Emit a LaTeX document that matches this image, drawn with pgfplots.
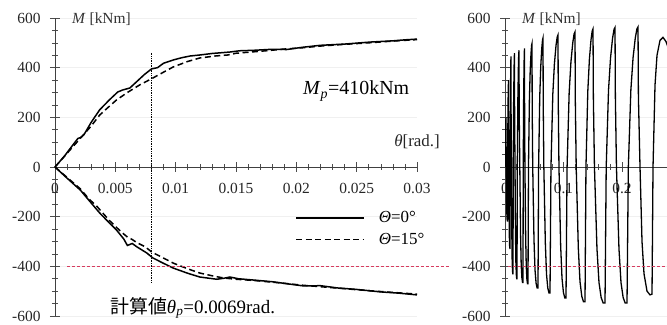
\documentclass[border=0pt]{standalone}
\usepackage{fontspec}
\setmainfont{Liberation Serif}
\newfontfamily\cjk{Noto Sans CJK JP}
\usepackage{pgfplots}
\pgfplotsset{compat=1.18}
\definecolor{refred}{RGB}{214,60,95}
\pgfplotsset{
  panel/.style={
    scale only axis, height=298bp,
    axis lines=middle, axis line style={-, line width=0.7bp, black!75},
    ymin=-600, ymax=600,
    ytick={-600,-400,-200,0,200,400,600},
    yticklabels={-600,-400,-200,0,200,400,600},
    scaled x ticks=false, scaled y ticks=false,
    minor y tick num=3,
    tick align=center,
    major tick length=10bp, minor tick length=6bp,
    every tick/.style={line width=0.6bp, black!70},
    hide obscured x ticks=false, hide obscured y ticks=false,
    ticklabel style={font=\fontsize{15.5}{17}\selectfont, black!85},
    xticklabel style={anchor=north, yshift=-8bp},
    yticklabel style={anchor=east, xshift=-6bp},
    ymajorgrids, major grid style={gray!12, line width=0.5bp},
  }
}
\begin{document}
\begin{tikzpicture}
\useasboundingbox (0bp,0bp) rectangle (667bp,325bp);
% ---------------- left panel ----------------
\begin{axis}[panel, at={(55bp,9bp)}, anchor=south west, width=362bp,
  xmin=0, xmax=0.03,
  xtick={0,0.005,0.01,0.015,0.02,0.025,0.03},
  xticklabels={0,0.005,0.01,0.015,0.02,0.025,0.03},
  minor x tick num=4, clip=false,
  legend style={at={(0.655,0.365)}, anchor=north west, draw=none, fill=none,
    font=\fontsize{17}{19}\selectfont, row sep=5bp, column sep=12bp},
  legend cell align=left,
  legend image code/.code={\draw[#1] (0bp,0bp) -- (68bp,0bp);},
]
\addplot[black, line width=1.5bp] coordinates {
(0,0) (0.0008,45) (0.0015,90) (0.0019,115) (0.0021,118) (0.0024,130) (0.0030,180)
(0.0037,230) (0.0045,270) (0.0052,302) (0.0056,310) (0.0062,318) (0.0068,345)
(0.0074,372) (0.0080,395) (0.0085,400) (0.0090,418) (0.0098,431) (0.0105,440)
(0.0112,447) (0.0120,451) (0.0130,457) (0.0145,463) (0.0153,468) (0.0165,470)
(0.0180,474) (0.0192,473) (0.0205,482) (0.0220,490) (0.0240,495) (0.0261,503)
(0.0280,508) (0.0290,512) (0.0300,515)};
\addlegendentry{{\itshape Θ}=0°}
\addplot[black, line width=1.5bp, dash pattern=on 6bp off 3.5bp] coordinates {
(0,0) (0.0010,55) (0.0022,121) (0.0030,165) (0.0037,209) (0.0044,240) (0.0051,270)
(0.0060,300) (0.0070,330) (0.0081,358) (0.0090,382) (0.0098,403) (0.0110,425)
(0.0120,439) (0.0133,447) (0.0143,451) (0.0150,458) (0.0160,462) (0.0175,468)
(0.0190,475) (0.0205,480) (0.0220,487) (0.0240,494) (0.0260,500) (0.0280,507)
(0.0300,513)};
\addlegendentry{{\itshape Θ}=15°}
\addplot[black, line width=1.5bp, forget plot] coordinates {
(0,0) (0.0010,-45) (0.0021,-93) (0.0030,-145) (0.0037,-185) (0.0045,-225)
(0.0051,-254) (0.0057,-290) (0.0060,-316) (0.0064,-308) (0.0068,-322) (0.0076,-346)
(0.0081,-366) (0.0090,-388) (0.0098,-407) (0.0110,-428) (0.0120,-443) (0.0134,-452)
(0.0140,-448) (0.0145,-443) (0.0152,-450) (0.0164,-455) (0.0180,-462) (0.0206,-479)
(0.0220,-478) (0.0234,-487) (0.0250,-493) (0.0270,-503) (0.0285,-508) (0.0300,-515)};
\addplot[black, line width=1.5bp, dash pattern=on 6bp off 3.5bp, forget plot] coordinates {
(0,0) (0.0010,-42) (0.0021,-88) (0.0028,-128) (0.0035,-160) (0.0045,-215)
(0.0055,-262) (0.0060,-282) (0.0064,-292) (0.0068,-305) (0.0075,-322) (0.0080,-342)
(0.0088,-362) (0.0098,-387) (0.0110,-410) (0.0120,-427) (0.0132,-440) (0.0140,-447)
(0.0150,-452) (0.0165,-457) (0.0185,-466) (0.0205,-476) (0.0230,-486) (0.0260,-498)
(0.0300,-512)};
\addplot[black, line width=0.7bp, densely dotted, forget plot] coordinates {(0.008,460) (0.008,-465)};
\addplot[refred, line width=0.6bp, densely dashed, forget plot] coordinates {(0.001,-400) (0.0327,-400)};
\end{axis}
% ---------------- right panel ----------------
\begin{axis}[panel, at={(505bp,9bp)}, anchor=south west, width=162bp,
  xmin=0, xmax=0.2769,
  xtick={0,0.1,0.2}, xticklabels={0,0.1,0.2},
  minor x tick num=4, clip=true,
]
\addplot[black, line width=1.3bp] coordinates {
(0,0)
(0.000684,116) (0.001197,172) (0.001709,200)
(0.001795,100) (0.002222,0) (0.002735,-132) (0.003162,-187) (0.003590,-211) (0.004274,-220)
(0.004530,0) (0.005009,203) (0.005470,301) (0.005983,350)
(0.006085,175) (0.006496,0) (0.007009,-198) (0.007436,-280) (0.007863,-317) (0.008547,-330)
(0.008803,0) (0.009282,258) (0.009744,383) (0.010000,427) (0.010256,445)
(0.010393,222) (0.010940,0) (0.011624,-258) (0.012137,-366) (0.012718,-413) (0.013265,-430) (0.013675,-430)
(0.014051,0) (0.014786,266) (0.015470,394) (0.015863,440) (0.016239,458)
(0.016410,229) (0.017094,0) (0.017949,-270) (0.018598,-383) (0.019316,-432) (0.020000,-450) (0.020513,-450)
(0.021026,0) (0.021983,273) (0.022906,404) (0.023419,451) (0.023932,470)
(0.024205,235) (0.025299,0) (0.026667,-279) (0.027692,-395) (0.028855,-446) (0.029949,-465) (0.030769,-465)
(0.031145,0) (0.031880,277) (0.032564,411) (0.032957,459) (0.033333,478)
(0.033504,239) (0.034051,0) (0.035316,-282) (0.036325,-400) (0.037402,-451) (0.038427,-470) (0.039316,-470)
(0.040137,0) (0.041709,273) (0.043077,388) (0.044444,457) (0.045470,490) (0.046154,497)
(0.046462,249) (0.047385,0) (0.049538,-292) (0.051282,-414) (0.053128,-468) (0.054872,-487) (0.056410,-487)
(0.057436,0) (0.059402,285) (0.061111,405) (0.062821,477) (0.064103,511) (0.064957,519)
(0.065316,260) (0.066393,0) (0.068906,-304) (0.070940,-431) (0.073094,-487) (0.075128,-507) (0.076923,-507)
(0.078564,0) (0.081709,293) (0.084444,415) (0.087179,489) (0.089231,524) (0.090598,532)
(0.091008,266) (0.092239,0) (0.095111,-316) (0.097436,-448) (0.099897,-506) (0.102222,-527) (0.104274,-527)
(0.106120,0) (0.109658,299) (0.112735,424) (0.115812,500) (0.118120,536) (0.119658,544)
(0.120171,272) (0.121709,0) (0.125299,-326) (0.128205,-462) (0.131282,-521) (0.134188,-543) (0.136752,-543)
(0.138393,0) (0.141538,306) (0.144274,434) (0.147009,512) (0.149060,548) (0.150427,556)
(0.151043,278) (0.152889,0) (0.157197,-329) (0.160684,-466) (0.164376,-526) (0.167863,-548) (0.170940,-548)
(0.172991,0) (0.176923,309) (0.180342,438) (0.183761,517) (0.186325,554) (0.188034,562)
(0.188649,281) (0.190496,0) (0.194803,-329) (0.198291,-466) (0.201983,-526) (0.205470,-548) (0.208547,-548)
(0.210803,0) (0.215128,310) (0.218889,440) (0.222650,519) (0.225470,556) (0.227350,564)
(0.228034,282) (0.230769,0) (0.234188,-300) (0.237607,-430) (0.242735,-500) (0.247863,-515) (0.251282,-512)
(0.252991,0) (0.256410,330) (0.259829,450) (0.264957,510) (0.270085,522) (0.275214,505) (0.280342,470)};
\addplot[refred, line width=0.6bp, densely dashed] coordinates {(0.005,-400) (0.2769,-400)};
\end{axis}
% ---------------- texts ----------------
\node[anchor=base west, inner sep=0pt, font=\fontsize{15.5}{17}\selectfont, black!80] at (72bp,301bp) {\textit{M} [kNm]};
\node[anchor=base west, inner sep=0pt, font=\fontsize{15.5}{17}\selectfont, black!80] at (522bp,301bp) {\textit{M} [kNm]};
\node[anchor=base east, inner sep=0pt, font=\fontsize{17}{19}\selectfont, black!85] at (440bp,178bp) {{\itshape θ}[rad.]};
\node[anchor=base west, inner sep=0pt, font=\fontsize{20}{22}\selectfont] at (303bp,230bp) {\textit{M}\textsubscript{\textit{p}}=410kNm};
\node[anchor=base west, inner sep=0pt, font=\fontsize{19}{21}\selectfont] at (110bp,12bp) {{\cjk 計算値}{\itshape θ}\textsubscript{\itshape p}=0.0069rad.};
\end{tikzpicture}
\end{document}
